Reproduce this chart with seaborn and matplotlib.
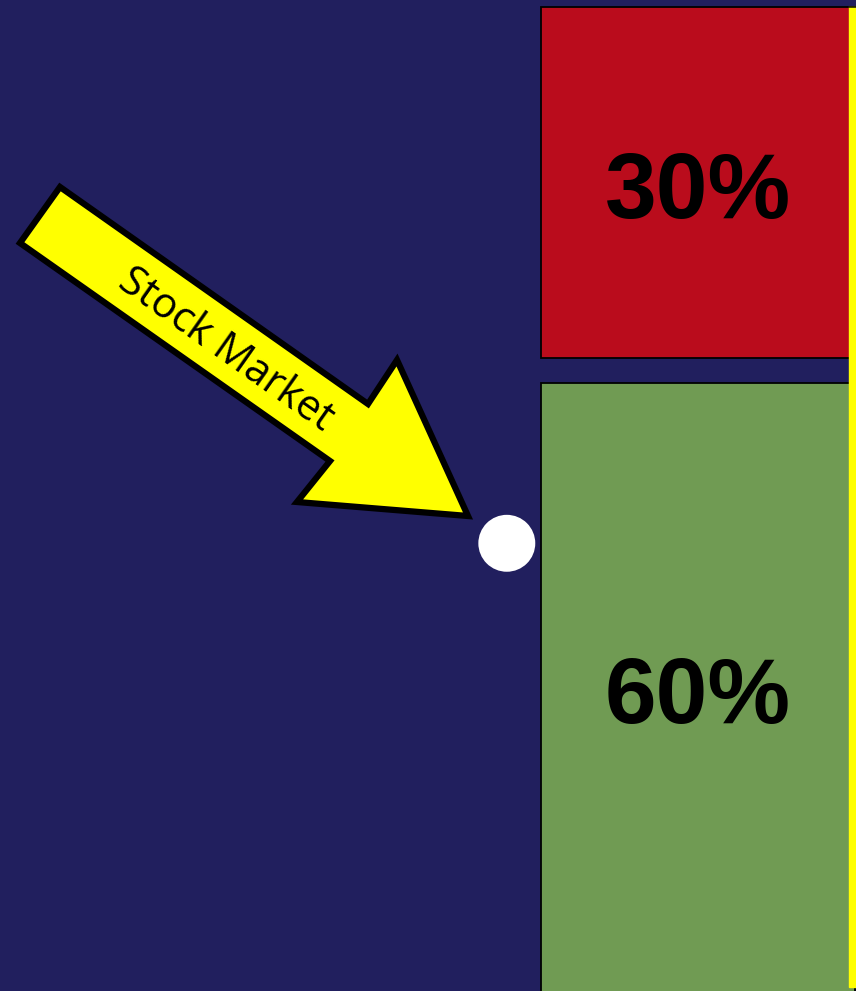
import numpy as np
import pandas as pd
import seaborn as sns
import matplotlib
matplotlib.use("Agg")
import matplotlib.pyplot as plt
from matplotlib.patches import Polygon
from matplotlib.transforms import offset_copy

# ---- data ----
categories = ["Allocation"]
segment_names = ["Stocks", "Cash"]
segment_values = [60, 30]          # percent
segment_labels = ["60%", "30%"]
segment_colors = ["#709B53", "#BA0C1C"]
segment_gap = 2.14
marker_label = "Stock Market"
marker_value = 46.3

NAVY = "#211F5E"
W, H = 856, 991

sns.set_theme(style="white")
plt.rcParams['font.family'] = ['Liberation Sans', 'DejaVu Sans']

fig = plt.figure(figsize=(W / 100, H / 100), dpi=100)
fig.patch.set_facecolor(NAVY)
ax = fig.add_axes([0, 0, 1, 1])
ax.set_facecolor(NAVY)

ylim = (8.034, 92.735)
bottoms = []
b = 0.0
for v in segment_values:
    bottoms.append(b)
    b += v + segment_gap

for name, val, bot, col in zip(segment_names, segment_values, bottoms, segment_colors):
    df = pd.DataFrame({"cat": categories, "value": [val]})
    sns.barplot(data=df, x="cat", y="value", ax=ax, color=col, saturation=1,
                width=0.8, bottom=bot, edgecolor="black", linewidth=1.3)

ax.set_xlim(-1.778, 0.4025)
ax.set_ylim(*ylim)

# labels centred in visible part of each segment
label_tr = offset_copy(ax.transData, fig=fig, x=0, y=-8.5, units="points")
for lab, val, bot in zip(segment_labels, segment_values, bottoms):
    lo = max(bot, ylim[0]); hi = min(bot + val, ylim[1])
    ax.text(0, (lo + hi) / 2, lab, ha="center", va="center", fontsize=67,
            fontweight="bold", color="black", family=["Liberation Sans"],
            transform=label_tr)

# yellow vertical band at right
ax.axvspan(0.385, 0.41, ymin=0.004, ymax=0.993, color="#FFFF00", zorder=5)
ax.plot([0.385, 0.41], [ylim[1] - 0.6, ylim[1] - 0.6], color="#222200", lw=1.2, zorder=6)

# white marker
ax.scatter([-0.487], [marker_value], s=1680, color="white", edgecolors="none", zorder=6)

# arrow (pixel coordinates converted to axes fraction)
arrow_px = np.array([(60, 187), (368, 404), (397, 360), (468, 516),
                     (297, 502), (330, 461), (20, 243)], dtype=float)
arrow_ax = np.column_stack([arrow_px[:, 0] / W, 1 - arrow_px[:, 1] / H])
ax.add_patch(Polygon(arrow_ax, closed=True, facecolor="#FFFF00", edgecolor="black",
                     linewidth=4.5, joinstyle="miter", transform=ax.transAxes, zorder=7))
ax.text(226 / W, 1 - 350 / H, marker_label, rotation=-35.2, rotation_mode="anchor",
        ha="center", va="center", fontsize=30, color="black",
        family=["Open Sans"], transform=ax.transAxes, zorder=8)

ax.set_xlabel(""); ax.set_ylabel("")
ax.set_xticks([]); ax.set_yticks([])
for s in ax.spines.values():
    s.set_visible(False)

fig.savefig("out.png", dpi=100, facecolor=NAVY)
